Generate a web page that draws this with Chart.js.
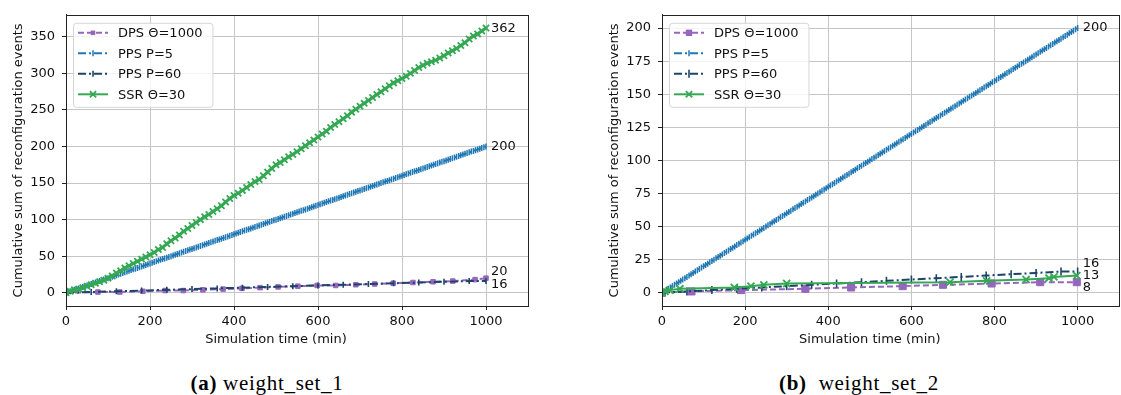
<!DOCTYPE html>
<html>
<head>
<meta charset="utf-8">
<script src="https://cdn.jsdelivr.net/npm/chart.js"></script>
<style>
  html, body { margin: 0; padding: 0; background: #fff; }
  body { width: 1121px; height: 395px; overflow: hidden; position: relative; }
  canvas { position: absolute; top: 0; }
  #chartA { left: 0; }
  #chartB { left: 596px; }
  .caption {
    position: absolute; top: 371px; width: 400px; text-align: center;
    font-family: "Liberation Serif", "DejaVu Serif", serif; font-size: 21px; letter-spacing: 0.7px; color: #000;
    white-space: pre;
  }
</style>
</head>
<body>
<canvas id="chartA" width="560" height="350"></canvas>
<canvas id="chartB" width="530" height="350"></canvas>
<div class="caption" style="left:67px"><b>(a)</b> weight_set_1</div>
<div class="caption" style="left:659px"><b>(b)</b>  weight_set_2</div>
<script>
const xTicks = [0, 200, 400, 600, 800, 1000];
const yTicksA = [0, 50, 100, 150, 200, 250, 300, 350];
const yTicksB = [0, 25, 50, 75, 100, 125, 150, 175, 200];

const seriesNames = ["DPS \u0398=1000", "PPS P=5", "PPS P=60", "SSR \u0398=30"];

// periodic policy, one event every 5 min (same in both weight sets)
const pps5Times = [
  0, 5, 10, 15, 20, 25, 30, 35, 40, 45, 50, 55, 60, 65, 70, 75, 80, 85, 90, 95,
  100, 105, 110, 115, 120, 125, 130, 135, 140, 145, 150, 155, 160, 165, 170, 175, 180, 185, 190, 195,
  200, 205, 210, 215, 220, 225, 230, 235, 240, 245, 250, 255, 260, 265, 270, 275, 280, 285, 290, 295,
  300, 305, 310, 315, 320, 325, 330, 335, 340, 345, 350, 355, 360, 365, 370, 375, 380, 385, 390, 395,
  400, 405, 410, 415, 420, 425, 430, 435, 440, 445, 450, 455, 460, 465, 470, 475, 480, 485, 490, 495,
  500, 505, 510, 515, 520, 525, 530, 535, 540, 545, 550, 555, 560, 565, 570, 575, 580, 585, 590, 595,
  600, 605, 610, 615, 620, 625, 630, 635, 640, 645, 650, 655, 660, 665, 670, 675, 680, 685, 690, 695,
  700, 705, 710, 715, 720, 725, 730, 735, 740, 745, 750, 755, 760, 765, 770, 775, 780, 785, 790, 795,
  800, 805, 810, 815, 820, 825, 830, 835, 840, 845, 850, 855, 860, 865, 870, 875, 880, 885, 890, 895,
  900, 905, 910, 915, 920, 925, 930, 935, 940, 945, 950, 955, 960, 965, 970, 975, 980, 985, 990, 995,
  1000
];
const pps5Counts = [
  0, 1, 2, 3, 4, 5, 6, 7, 8, 9, 10, 11, 12, 13, 14, 15, 16, 17, 18, 19,
  20, 21, 22, 23, 24, 25, 26, 27, 28, 29, 30, 31, 32, 33, 34, 35, 36, 37, 38, 39,
  40, 41, 42, 43, 44, 45, 46, 47, 48, 49, 50, 51, 52, 53, 54, 55, 56, 57, 58, 59,
  60, 61, 62, 63, 64, 65, 66, 67, 68, 69, 70, 71, 72, 73, 74, 75, 76, 77, 78, 79,
  80, 81, 82, 83, 84, 85, 86, 87, 88, 89, 90, 91, 92, 93, 94, 95, 96, 97, 98, 99,
  100, 101, 102, 103, 104, 105, 106, 107, 108, 109, 110, 111, 112, 113, 114, 115, 116, 117, 118, 119,
  120, 121, 122, 123, 124, 125, 126, 127, 128, 129, 130, 131, 132, 133, 134, 135, 136, 137, 138, 139,
  140, 141, 142, 143, 144, 145, 146, 147, 148, 149, 150, 151, 152, 153, 154, 155, 156, 157, 158, 159,
  160, 161, 162, 163, 164, 165, 166, 167, 168, 169, 170, 171, 172, 173, 174, 175, 176, 177, 178, 179,
  180, 181, 182, 183, 184, 185, 186, 187, 188, 189, 190, 191, 192, 193, 194, 195, 196, 197, 198, 199,
  200
];

// periodic policy, one event every 60 min
const pps60Times = [0, 60, 120, 180, 240, 300, 360, 420, 480, 540, 600, 660, 720, 780, 840, 900, 960, 1000];
const pps60Counts = [0, 1, 2, 3, 4, 5, 6, 7, 8, 9, 10, 11, 12, 13, 14, 15, 16, 16];

// weight_set_1
const dpsTimesA = [0, 76, 128, 183, 236, 279, 326, 374, 419, 462, 505, 552, 598, 642, 690, 735, 779, 826, 874, 921, 974, 1000];
const dpsCountsA = [0, 1, 1, 2, 3, 3, 4, 5, 6, 7, 8, 9, 10, 10, 11, 12, 13, 14, 15, 16, 18, 20];

const ssrTimesA = [
  0, 10, 20, 30, 40, 50, 60, 70, 80, 90,
  100, 110, 120, 130, 140, 150, 160, 170, 180, 190,
  200, 210, 220, 230, 240, 250, 260, 270, 280, 290,
  300, 310, 320, 330, 340, 350, 360, 370, 380, 390,
  400, 410, 420, 430, 440, 450, 460, 470, 480, 490,
  500, 510, 520, 530, 540, 550, 560, 570, 580, 590,
  600, 610, 620, 630, 640, 650, 660, 670, 680, 690,
  700, 710, 720, 730, 740, 750, 760, 770, 780, 790,
  800, 810, 820, 830, 840, 850, 860, 870, 880, 890,
  900, 910, 920, 930, 940, 950, 960, 970, 980, 990,
  1000
];
const ssrCountsA = [
  0, 2, 4, 5, 7, 9, 11, 13, 15, 17,
  20, 23, 27, 30, 34, 37, 40, 43, 46, 49,
  52, 55, 59, 62, 67, 71, 75, 79, 84, 88,
  92, 96, 100, 104, 107, 111, 115, 119, 124, 129,
  133, 136, 140, 144, 148, 152, 155, 160, 165, 170,
  175, 178, 182, 186, 189, 193, 197, 201, 205, 209,
  213, 217, 221, 226, 230, 234, 238, 242, 247, 251,
  255, 259, 263, 267, 271, 275, 279, 283, 287, 290,
  293, 296, 300, 304, 308, 311, 314, 316, 318, 321,
  324, 328, 331, 334, 338, 342, 347, 351, 354, 358,
  362
];

// weight_set_2
const dpsTimesB = [0, 71, 190, 345, 455, 579, 676, 793, 910, 998];
const dpsCountsB = [0, 1, 2, 3, 4, 5, 6, 7, 8, 8];

const ssrTimesB = [0, 7, 19, 43, 174, 214, 245, 300, 693, 781, 876, 931, 943, 998];
const ssrCountsB = [0, 1, 2, 3, 4, 5, 6, 7, 8, 9, 10, 11, 12, 13];

const FONT = "DejaVu Sans";
const INK = "#111";
const SPINE = "#222";
const GRID = "#c6c6c6";
const colors = { dps: "#9467bd", pps5: "#1f77b4", pps60: "#1d4466", ssr: "#34a853" };

function pts(times, counts) {
  return times.map((t, i) => ({ x: t, y: counts[i] }));
}

function series(label, times, counts, color, style) {
  return Object.assign({
    label: label,
    data: pts(times, counts),
    borderColor: color,
    backgroundColor: color,
    pointBorderColor: color,
    pointBackgroundColor: color,
    borderWidth: 2,
    tension: 0,
    fill: false
  }, style);
}

function buildDatasets(set) {
  const dash = [6, 3];
  const dashDot = [8, 3, 2, 3];
  return [
    series(seriesNames[0], set.dpsTimes, set.dpsCounts, colors.dps, {
      borderDash: dash, pointStyle: "rect", pointRadius: set.big ? 5 : 3.2, pointBorderWidth: 1, order: 3, endDy: set.big ? 5 : -7
    }),
    series(seriesNames[1], pps5Times, pps5Counts, colors.pps5, {
      borderDash: dashDot, pointStyle: "line", pointRotation: 90, pointRadius: 3, pointBorderWidth: 1.5, order: 2, endDy: 0
    }),
    series(seriesNames[2], pps60Times, pps60Counts, colors.pps60, {
      borderDash: dashDot, pointStyle: "line", pointRotation: 90, pointRadius: set.big ? 4 : 3, pointBorderWidth: 1.6, order: 1, endDy: set.big ? -8 : 4
    }),
    series(seriesNames[3], set.ssrTimes, set.ssrCounts, colors.ssr, {
      borderWidth: set.big ? 2 : 3, pointStyle: "crossRot", pointRadius: set.big ? 5 : 4.4, pointBorderWidth: 1.8, order: 0, endDy: set.big ? 0 : 1
    })
  ];
}

// small marker painter for the legend samples
function drawMarker(ctx, ds, x, y, r) {
  ctx.save();
  ctx.strokeStyle = ds.pointBorderColor;
  ctx.fillStyle = ds.pointBackgroundColor;
  ctx.lineWidth = ds.pointBorderWidth;
  ctx.setLineDash([]);
  ctx.beginPath();
  if (ds.pointStyle === "rect") {
    const s = r * Math.SQRT1_2;
    ctx.rect(x - s, y - s, 2 * s, 2 * s);
    ctx.fill();
  } else if (ds.pointStyle === "crossRot") {
    const s = r * Math.SQRT1_2;
    ctx.moveTo(x - s, y - s); ctx.lineTo(x + s, y + s);
    ctx.moveTo(x - s, y + s); ctx.lineTo(x + s, y - s);
    ctx.stroke();
  } else {
    ctx.moveTo(x, y - r); ctx.lineTo(x, y + r);
    ctx.stroke();
  }
  ctx.restore();
}

const framePlugin = {
  id: "frame",
  afterDatasetsDraw(chart) {
    const { ctx, chartArea: a } = chart;
    ctx.save();
    ctx.strokeStyle = SPINE;
    ctx.lineWidth = 1;
    ctx.strokeRect(Math.round(a.left) + 0.5, Math.round(a.top) + 0.5, Math.round(a.right - a.left), Math.round(a.bottom - a.top));
    ctx.restore();
  }
};

const endLabelPlugin = {
  id: "endLabels",
  afterDatasetsDraw(chart) {
    const { ctx } = chart;
    const xs = chart.scales.x, ys = chart.scales.y;
    ctx.save();
    ctx.font = "13px '" + FONT + "'";
    ctx.fillStyle = INK;
    ctx.textBaseline = "middle";
    ctx.textAlign = "left";
    chart.data.datasets.forEach((ds) => {
      const last = ds.data[ds.data.length - 1];
      ctx.fillText(String(last.y), xs.getPixelForValue(1000) + 5, ys.getPixelForValue(last.y) + ds.endDy);
    });
    ctx.restore();
  }
};

const legendPlugin = {
  id: "legendBox",
  afterDraw(chart) {
    const { ctx, chartArea: a } = chart;
    const sets = chart.data.datasets;
    const left = a.left + 7, top = a.top + 8;
    ctx.save();
    ctx.font = "13px '" + FONT + "'";
    const textW = Math.max(...sets.map((d) => ctx.measureText(d.label).width));
    const w = 45 + textW + 10, h = 84;
    ctx.fillStyle = "rgba(255,255,255,0.8)";
    ctx.strokeStyle = "#d6d6d6";
    ctx.lineWidth = 1;
    ctx.beginPath();
    ctx.roundRect(left + 0.5, top + 0.5, w, h, 3);
    ctx.fill();
    ctx.stroke();
    sets.forEach((ds, i) => {
      const y = top + 10 + i * 20.5;
      ctx.strokeStyle = ds.borderColor;
      ctx.lineWidth = Math.min(ds.borderWidth, 2);
      ctx.setLineDash(ds.borderDash || []);
      ctx.beginPath();
      ctx.moveTo(left + 5, y);
      ctx.lineTo(left + 35, y);
      ctx.stroke();
      drawMarker(ctx, ds, left + 20, y, Math.min(ds.pointRadius, 4.5));
      ctx.setLineDash([]);
      ctx.fillStyle = INK;
      ctx.textBaseline = "middle";
      ctx.fillText(ds.label, left + 45, y + 1);
    });
    ctx.restore();
  }
};

const axisTitlePlugin = {
  id: "axisTitles",
  afterDraw(chart) {
    const { ctx, chartArea: a } = chart;
    const xs = chart.scales.x;
    ctx.save();
    ctx.font = "13px '" + FONT + "'";
    ctx.fillStyle = INK;
    ctx.textAlign = "center";
    ctx.textBaseline = "middle";
    const mid = (xTicks[0] + xTicks[xTicks.length - 1]) / 2;
    ctx.fillText("Simulation time (min)", xs.getPixelForValue(mid), 340);
    ctx.translate(19, (a.top + a.bottom) / 2);
    ctx.rotate(-Math.PI / 2);
    ctx.fillText("Cumulative sum of reconfiguration events", 0, 0);
    ctx.restore();
  }
};

function makeChart(id, set) {
  const tickFont = { family: FONT, size: 13 };
  return new Chart(document.getElementById(id), {
    type: "line",
    data: { datasets: buildDatasets(set) },
    plugins: [framePlugin, endLabelPlugin, legendPlugin, axisTitlePlugin],
    options: {
      responsive: false,
      animation: false,
      events: [],
      layout: { padding: { top: 7, right: set.padRight, left: 0, bottom: 0 } },
      plugins: { legend: { display: false }, tooltip: { enabled: false } },
      scales: {
        x: {
          type: "linear",
          min: 0,
          max: 1100,
          afterBuildTicks: (s) => { s.ticks = xTicks.map((v) => ({ value: v })); },
          afterFit: (s) => { s.height = 44; },
          ticks: { font: tickFont, color: INK, padding: 4, maxRotation: 0, autoSkip: false, callback: (v) => String(v) },
          grid: { color: GRID, lineWidth: 1, tickColor: SPINE, tickLength: 4 },
          border: { color: SPINE, width: 1 }
        },
        y: {
          type: "linear",
          min: set.yMin,
          max: set.yMax,
          afterBuildTicks: (s) => { s.ticks = set.yTicks.map((v) => ({ value: v })); },
          afterFit: (s) => { s.width = 66; },
          ticks: { font: tickFont, color: INK, padding: 7, autoSkip: false, callback: (v) => String(v) },
          grid: { color: GRID, lineWidth: 1, tickColor: SPINE, tickLength: 4 },
          border: { color: SPINE, width: 1 }
        }
      }
    }
  });
}

makeChart("chartA", {
  dpsTimes: dpsTimesA, dpsCounts: dpsCountsA,
  ssrTimes: ssrTimesA, ssrCounts: ssrCountsA,
  yTicks: yTicksA, yMin: -18.1, yMax: 380.1, padRight: 32, big: false
});

makeChart("chartB", {
  dpsTimes: dpsTimesB, dpsCounts: dpsCountsB,
  ssrTimes: ssrTimesB, ssrCounts: ssrCountsB,
  yTicks: yTicksB, yMin: -10, yMax: 210, padRight: 2, big: true
});
</script>
</body>
</html>
